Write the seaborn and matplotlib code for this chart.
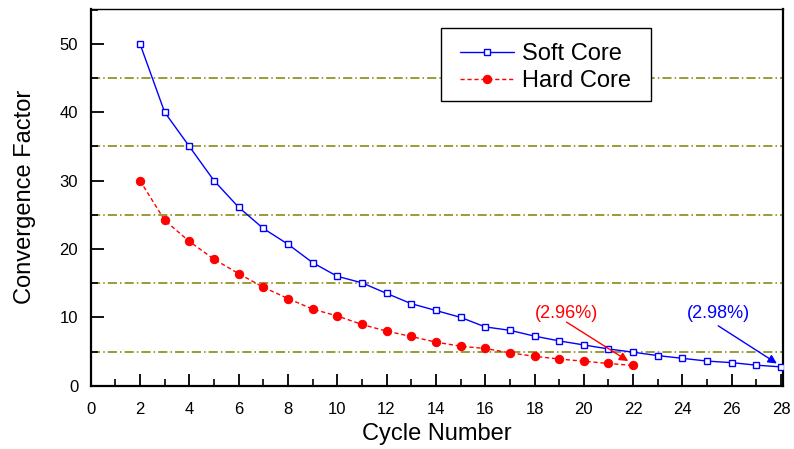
import matplotlib
matplotlib.use("Agg")
import matplotlib.pyplot as plt
import seaborn as sns
import pandas as pd
import numpy as np
from matplotlib.ticker import MultipleLocator
from matplotlib.patches import Rectangle

sns.set_theme(style="white")
plt.rcParams['font.family'] = ['Liberation Sans', 'DejaVu Sans']
plt.rcParams['text.color'] = 'black'
plt.rcParams['axes.labelcolor'] = 'black'
plt.rcParams['xtick.color'] = 'black'
plt.rcParams['ytick.color'] = 'black'

soft_x = list(range(2, 29))
soft_y = [50, 40, 35, 30, 26.1, 23.0, 20.7, 18.0, 16.0, 15.05, 13.5, 12.0, 11.0, 10.0,
          8.6, 8.1, 7.25, 6.55, 5.96, 5.37, 4.9, 4.4, 4.0, 3.6, 3.37, 3.0, 2.75]
hard_x = list(range(2, 23))
hard_y = [30, 24.2, 21.1, 18.5, 16.4, 14.4, 12.75, 11.2, 10.2, 8.96, 7.98, 7.2, 6.37,
          5.78, 5.44, 4.8, 4.3, 3.9, 3.58, 3.25, 2.96]
grid_levels = [5, 15, 25, 35, 45]
x_ticks = list(range(0, 29, 2))
y_ticks = [0, 10, 20, 30, 40, 50]

soft_df = pd.DataFrame({"Cycle": soft_x, "Factor": soft_y})
hard_df = pd.DataFrame({"Cycle": hard_x, "Factor": hard_y})

fig = plt.figure(figsize=(7.94, 4.49), dpi=100)
ax = fig.add_axes([0.1142, 0.141, 0.9862 - 0.1142, 0.980 - 0.141])

for g in grid_levels:
    ax.axhline(g, color="#808000", lw=1.1, ls=(0, (6, 2, 1, 2)), zorder=0)

sns.lineplot(data=soft_df, x="Cycle", y="Factor", ax=ax, color="#0000ff", lw=1.0,
             marker="s", markersize=5, markerfacecolor="white", markeredgecolor="#0000ff",
             markeredgewidth=1.0, label="Soft Core", zorder=3)
sns.lineplot(data=hard_df, x="Cycle", y="Factor", ax=ax, color="#ff0000", lw=1.0,
             linestyle=(0, (3, 2)), marker="o", markersize=6, markerfacecolor="#ff0000",
             markeredgecolor="#ff0000", label="Hard Core", zorder=3)

ax.set_xlim(0, 28.08)
ax.set_ylim(0, 55.1)
ax.set_xticks(x_ticks)
ax.set_yticks(y_ticks)
ax.xaxis.set_minor_locator(MultipleLocator(1))
ax.yaxis.set_minor_locator(MultipleLocator(5))
ax.tick_params(axis="both", which="major", direction="in", length=9, width=1.3,
               labelsize=12, colors="black", bottom=True, left=True, top=False, right=False)
ax.tick_params(axis="x", which="major", pad=11.5)
ax.tick_params(axis="y", which="major", pad=9)
ax.tick_params(axis="both", which="minor", direction="in", length=5, width=1.2,
               bottom=True, left=True, top=False, right=False)
for sp in ax.spines.values():
    sp.set_linewidth(1.6)
    sp.set_color("black")
ax.spines["top"].set_linewidth(1.0)

ax.set_xlabel("Cycle Number", fontsize=17, labelpad=4.5)
ax.set_ylabel("Convergence Factor", fontsize=17, labelpad=17)

# annotations
ax.text(19.3, 10.5, "(2.96%)", ha="center", va="center", color="#ff0000", fontsize=13)
ax.annotate("", xy=(21.8, 3.6), xytext=(19.3, 9.3),
            arrowprops=dict(arrowstyle="-|>", color="#ff0000", lw=1.0, mutation_scale=13,
                            shrinkA=0, shrinkB=0))
ax.text(25.45, 10.5, "(2.98%)", ha="center", va="center", color="#0000ff", fontsize=13)
ax.annotate("", xy=(27.83, 3.25), xytext=(25.45, 8.76),
            arrowprops=dict(arrowstyle="-|>", color="#0000ff", lw=1.0, mutation_scale=13,
                            shrinkA=0, shrinkB=0))

# legend with custom frame
W, H = 794.0, 449.0
frame = Rectangle((441 / W, 1 - 101 / H), 210 / W, 73 / H, transform=fig.transFigure,
                  facecolor="white", edgecolor="black", lw=1.0, zorder=4, clip_on=False)
ax.add_patch(frame)
leg = ax.legend(loc="upper left", bbox_to_anchor=(460 / W, 1 - 43 / H),
                bbox_transform=fig.transFigure, fontsize=17, frameon=False,
                handlelength=2.3, borderpad=0, labelspacing=0.22, handletextpad=0.34,
                borderaxespad=0)
leg.set_zorder(5)

fig.savefig("out.png", dpi=100)
